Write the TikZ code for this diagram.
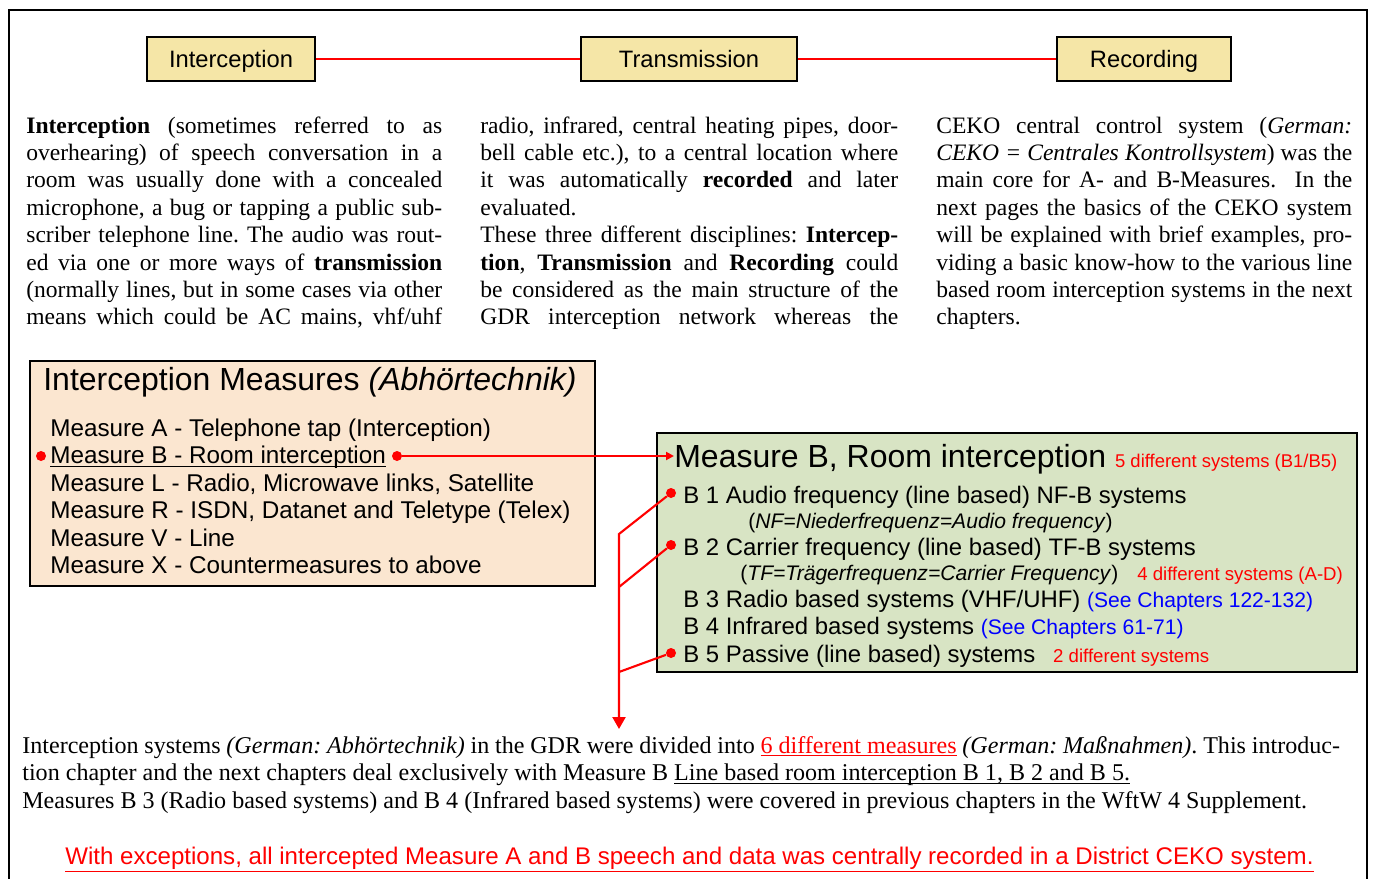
\documentclass[tikz,border=0pt]{standalone}
\usepackage{fontspec}
\setmainfont{Liberation Serif}
\setsansfont{Liberation Sans}
\usepackage{tikz}
\usetikzlibrary{arrows.meta,positioning}
\definecolor{stageyellow}{HTML}{F5E6A7}
\definecolor{measurepeach}{HTML}{FBE6D0}
\definecolor{roomgreen}{HTML}{D8E4C4}
\newcommand\baseunder[1]{\underline{\smash{#1}}}
\frenchspacing

\begin{document}
\begin{tikzpicture}[x=0.02cm,y=-0.02cm,
    stage/.style={draw,line width=1.2pt,fill=stageyellow,minimum height=0.88cm,inner sep=0pt,text height=0.95em,text depth=0pt,font=\sffamily\fontsize{13.5}{16}\selectfont},
    column/.style={anchor=base west,inner sep=0pt,text width=8.32cm,align=justify,font=\fontsize{13.4}{15.6}\selectfont},
    item/.style={anchor=base west,inner sep=0pt,font=\sffamily\fontsize{13.6}{16}\selectfont},
    sub/.style={anchor=base west,inner sep=0pt,font=\sffamily\fontsize{12}{14}\selectfont},
    heading/.style={anchor=base west,inner sep=0pt,font=\sffamily\fontsize{18.2}{20}\selectfont},
    dot/.style={circle,fill=red,inner sep=0pt,minimum size=0.2cm},
    link/.style={red,line width=1.2pt}]
    \useasboundingbox (0,0) rectangle (1373,879);
    \draw[line width=1.5pt] (9,879) -- (9,10) -- (1367,10) -- (1367,879);

    % three disciplines
    \node[stage,minimum width=3.36cm] (icpt) at (231,59) {Interception};
    \node[stage,minimum width=4.32cm] (trans) at (689,59) {Transmission};
    \node[stage,minimum width=3.48cm] (rec) at (1144,59) {Recording};
    \draw[link] (icpt) -- (trans);
    \draw[link] (trans) -- (rec);

    \node[column] (col1) at (26,133) {\textbf{Interception} (sometimes referred to as\linebreak
      overhearing) of speech conversation in a\linebreak
      room was usually done with a concealed\linebreak
      microphone, a bug or tapping a public sub-\linebreak
      scriber telephone line. The audio was rout-\linebreak
      ed via one or more ways of \textbf{transmission}\linebreak
      (normally lines, but in some cases via other\linebreak
      means which could be AC mains, vhf/uhf\parfillskip=0pt\par};
    \node[column,text width=8.36cm] (col2) at (480,133) {radio, infrared, central heating pipes, door-\linebreak
      bell cable etc.), to a central location where\linebreak
      it was automatically \textbf{recorded} and later\linebreak
      evaluated.\par
      These three different disciplines: \textbf{Intercep-}\linebreak
      \textbf{tion}, \textbf{Transmission} and \textbf{Recording} could\linebreak
      be considered as the main structure of the\linebreak
      GDR interception network whereas the\parfillskip=0pt\par};
    \node[column] (col3) at (936,133) {CEKO central control system (\textit{German:}\linebreak
      \textit{CEKO = Centrales Kontrollsystem}) was the\linebreak
      main core for A- and B-Measures.\ \ In the\linebreak
      next pages the basics of the CEKO system\linebreak
      will be explained with brief examples, pro-\linebreak
      viding a basic know-how to the various line\linebreak
      based room interception systems in the next\linebreak
      chapters.\par};

    % measures
    \node[draw,line width=1.2pt,fill=measurepeach,inner sep=0pt,minimum width=11.3cm,minimum height=4.5cm,anchor=north west] (mbox) at (29,360) {};
    \node[heading] (mtitle) at (43,390) {Interception Measures \textit{(Abhörtechnik)}};
    \node[item,font=\sffamily\fontsize{13.8}{16}\selectfont] (mA) at (50,436) {Measure A - Telephone tap (Interception)};
    \node[item,font=\sffamily\fontsize{13.8}{16}\selectfont,below=0.552cm of mA.base west,anchor=base west] (mB) {\baseunder{Measure B - Room interception}};
    \node[item,font=\sffamily\fontsize{13.8}{16}\selectfont,below=0.552cm of mB.base west,anchor=base west] (mL) {Measure L - Radio, Microwave links, Satellite};
    \node[item,font=\sffamily\fontsize{13.8}{16}\selectfont,below=0.552cm of mL.base west,anchor=base west] (mR) {Measure R - ISDN, Datanet and Teletype (Telex)};
    \node[item,font=\sffamily\fontsize{13.8}{16}\selectfont,below=0.552cm of mR.base west,anchor=base west] (mV) {Measure V - Line};
    \node[item,font=\sffamily\fontsize{13.8}{16}\selectfont,below=0.552cm of mV.base west,anchor=base west] (mX) {Measure X - Countermeasures to above};
    \node[dot] (mBdotl) at (41,456) {};
    \node[dot] (mBdotr) at (397,456) {};

    % room interception
    \node[draw,line width=1.2pt,fill=roomgreen,inner sep=0pt,minimum width=14cm,minimum height=4.78cm,anchor=north west] (rbox) at (656,432) {};
    \node[heading] (rtitle) at (674,467) {Measure B, Room interception \textcolor{red}{\fontsize{10.5}{12}\selectfont 5 different systems (B1/B5)}};
    \node[item] (b1) at (683,503.5) {B 1 Audio frequency (line based) NF-B systems};
    \node[sub] (b1sub) at (748,528.5) {(\textit{NF=Niederfrequenz=Audio frequency})};
    \node[item] (b2) at (683,555.5) {B 2 Carrier frequency (line based) TF-B systems};
    \node[sub] (b2sub) at (740,580.5) {(\textit{TF=Trägerfrequenz=Carrier Frequency})\hspace{0.9em}\textcolor{red}{\fontsize{10.6}{12}\selectfont 4 different systems (A-D)}};
    \node[item] (b3) at (683,607.5) {B 3 Radio based systems (VHF/UHF) \textcolor{blue}{\fontsize{12}{14}\selectfont(See Chapters 122-132)}};
    \node[item] (b4) at (683,634.5) {B 4 Infrared based systems \textcolor{blue}{\fontsize{12}{14}\selectfont(See Chapters 61-71)}};
    \node[item] (b5) at (683,662.5) {B 5 Passive (line based) systems\hspace{0.75em}\textcolor{red}{\fontsize{10.6}{12}\selectfont 2 different systems}};
    \node[dot] (b1dot) at (671,493) {};
    \node[dot] (b2dot) at (671,545) {};
    \node[dot] (b5dot) at (671,653) {};
    \coordinate (j1) at (619,534);
    \coordinate (j2) at (619,587);
    \coordinate (j5) at (619,672);
    \coordinate (jb) at (619,729);

    \draw[link,-{Triangle[width=4.5pt,length=4.5pt]}] (mBdotr) -- (mBdotr -| rtitle.west);
    \draw[link,-{Triangle[width=7.4pt,length=6.8pt]}] (b1dot) -- (j1) -- (jb);
    \draw[link] (b2dot) -- (j2);
    \draw[link] (b5dot) -- (j5);

    % summary
    \node[column,text width=26.36cm,font=\fontsize{13.7}{15.9}\selectfont] (summary) at (22,753) {Interception systems \textit{(German: Abhörtechnik)} in the GDR were divided into \textcolor{red}{\baseunder{6 different measures}} \textit{(German: Maßnahmen)}. This introduc-\linebreak
      tion chapter and the next chapters deal exclusively with Measure B \baseunder{Line based room interception B 1, B 2 and B 5.}\\
      Measures B 3 (Radio based systems) and B 4 (Infrared based systems) were covered in previous chapters in the WftW 4 Supplement.\par};
    \node[anchor=base,inner sep=0pt,font=\sffamily\fontsize{13.7}{16}\selectfont] (note) at (689.5,864) {\textcolor{red}{\underline{With exceptions, all intercepted Measure A and B speech and data was centrally recorded in a District CEKO system.}}};
\end{tikzpicture}
\end{document}
